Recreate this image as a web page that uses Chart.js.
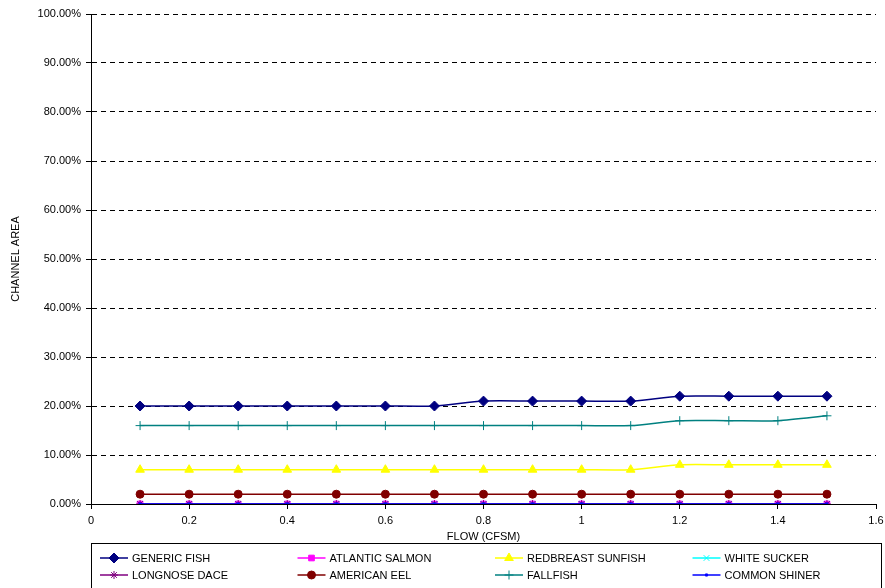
<!DOCTYPE html>
<html>
<head>
<meta charset="utf-8">
<script src="https://cdn.jsdelivr.net/npm/chart.js@4"></script>
<style>
html,body{margin:0;padding:0;background:#fff;}
#wrap{width:885px;height:588px;position:relative;}
</style>
</head>
<body>
<div id="wrap"><canvas id="c" width="885" height="588"></canvas></div>
<script>
const flow = [0.1,0.2,0.3,0.4,0.5,0.6,0.7,0.8,0.9,1.0,1.1,1.2,1.3,1.4,1.5];
const genericFish       = [20,20,20,20,20,20,20,21,21,21,21,22,22,22,22];
const atlanticSalmon    = [0,0,0,0,0,0,0,0,0,0,0,0,0,0,0];
const redbreastSunfish  = [7,7,7,7,7,7,7,7,7,7,7,8,8,8,8];
const whiteSucker       = [0,0,0,0,0,0,0,0,0,0,0,0,0,0,0];
const longnoseDace      = [0,0,0,0,0,0,0,0,0,0,0,0,0,0,0];
const americanEel       = [2,2,2,2,2,2,2,2,2,2,2,2,2,2,2];
const fallfish          = [16,16,16,16,16,16,16,16,16,16,16,17,17,17,18];
const commonShiner      = [0,0,0,0,0,0,0,0,0,0,0,0,0,0,0];
const seriesNames = ['GENERIC FISH','ATLANTIC SALMON','REDBREAST SUNFISH','WHITE SUCKER','LONGNOSE DACE','AMERICAN EEL','FALLFISH','COMMON SHINER'];
const xTicks = [0,0.2,0.4,0.6,0.8,1,1.2,1.4,1.6];

const FONT = '"Liberation Sans", Arial, sans-serif';
const styles = [
  {color:'#000080', ps:'rectRot', r:5},
  {color:'#FF00FF', ps:'rect', r:4},
  {color:'#FFFF00', ps:'triangle', r:5},
  {color:'#00FFFF', ps:'crossRot', r:4},
  {color:'#800080', ps:'star', r:4},
  {color:'#800000', ps:'circle', r:4},
  {color:'#008080', ps:'cross', r:4.5},
  {color:'#0000FF', ps:'rect', r:1.5}
];
const allData = [genericFish,atlanticSalmon,redbreastSunfish,whiteSucker,longnoseDace,americanEel,fallfish,commonShiner];

const datasets = allData.map((d,i)=>({
  label: seriesNames[i],
  data: d.map((v,j)=>({x:flow[j], y:v})),
  borderColor: styles[i].color,
  backgroundColor: styles[i].color,
  pointBorderColor: styles[i].color,
  pointBackgroundColor: styles[i].color,
  pointStyle: styles[i].ps,
  pointRadius: styles[i].r,
  pointBorderWidth: 1,
  borderWidth: 1.5,
  tension: 0.25,
  order: 8 - i
}));

const axisPlugin = {
  id:'solidAxes',
  afterDatasetsDraw(chart){
    const a = chart.chartArea, ctx = chart.ctx;
    ctx.save();
    ctx.setLineDash([]);
    ctx.strokeStyle = '#000';
    ctx.lineWidth = 1;
    ctx.beginPath();
    ctx.moveTo(Math.round(a.left)+0.5, a.top);
    ctx.lineTo(Math.round(a.left)+0.5, a.bottom+0.5);
    ctx.stroke();
    ctx.restore();
  }
};

const legendPlugin = {
  id:'boxLegend',
  afterDraw(chart){
    const ctx = chart.ctx;
    ctx.save();
    ctx.setLineDash([]);
    ctx.strokeStyle = '#000';
    ctx.lineWidth = 1;
    ctx.strokeRect(91.5, 543.5, 790, 60);
    ctx.font = '11px ' + FONT;
    ctx.textBaseline = 'middle';
    ctx.fillStyle = '#000';
    chart.data.datasets.forEach((ds,i)=>{
      const col = i % 4, row = Math.floor(i/4);
      const x0 = 100 + col*197.5;
      const y = 558 + row*17;
      ctx.strokeStyle = ds.borderColor;
      ctx.lineWidth = 1.5;
      ctx.beginPath(); ctx.moveTo(x0, y); ctx.lineTo(x0+28, y); ctx.stroke();
      ctx.fillStyle = ds.pointBackgroundColor;
      ctx.strokeStyle = ds.pointBorderColor;
      ctx.lineWidth = 1;
      Chart.helpers.drawPoint(ctx, {pointStyle: ds.pointStyle, radius: ds.pointRadius, rotation:0, borderWidth:1}, x0+14, y);
      ctx.fillStyle = '#000';
      ctx.fillText(ds.label, x0+32, y+0.5);
    });
    ctx.restore();
  }
};

new Chart(document.getElementById('c'), {
  type:'line',
  data:{datasets},
  plugins:[axisPlugin, legendPlugin],
  options:{
    responsive:false,
    animation:false,
    devicePixelRatio:1,
    layout:{autoPadding:false, padding:{left:0, right:9, top:14, bottom:44}},
    plugins:{legend:{display:false}, tooltip:{enabled:false}},
    scales:{
      x:{
        type:'linear', min:0, max:1.6,
        afterBuildTicks(s){ s.ticks = xTicks.map(v=>({value:v})); },
        afterFit(s){ s.height = 40; s.paddingLeft = 0; s.paddingRight = 0; },
        ticks:{autoSkip:false, maxRotation:0, color:'#000', font:{family:FONT, size:11}, padding:5,
          callback:(v)=>String(Math.round(v*10)/10)},
        grid:{display:true, drawOnChartArea:false, drawTicks:true, tickLength:5, color:'#000', tickColor:'#000'},
        border:{display:true, color:'#000', width:1},
        title:{display:true, text:'FLOW (CFSM)', color:'#000', font:{family:FONT, size:11}, padding:{top:0,bottom:0}}
      },
      y:{
        min:0, max:100,
        afterFit(s){ s.width = 91; s.paddingTop = 0; s.paddingBottom = 0; },
        ticks:{stepSize:10, color:'#000', font:{family:FONT, size:11}, padding:5,
          callback:(v)=>v.toFixed(2)+'%'},
        grid:{color:'#000', lineWidth:1, tickBorderDash:[], tickLength:5, tickColor:'#000', drawTicks:true},
        border:{display:true, color:'#000', width:1, dash:[5,4]},
        title:{display:true, text:'CHANNEL AREA', color:'#000', font:{family:FONT, size:11}, padding:{top:9,bottom:2}}
      }
    }
  }
});
</script>
</body>
</html>
